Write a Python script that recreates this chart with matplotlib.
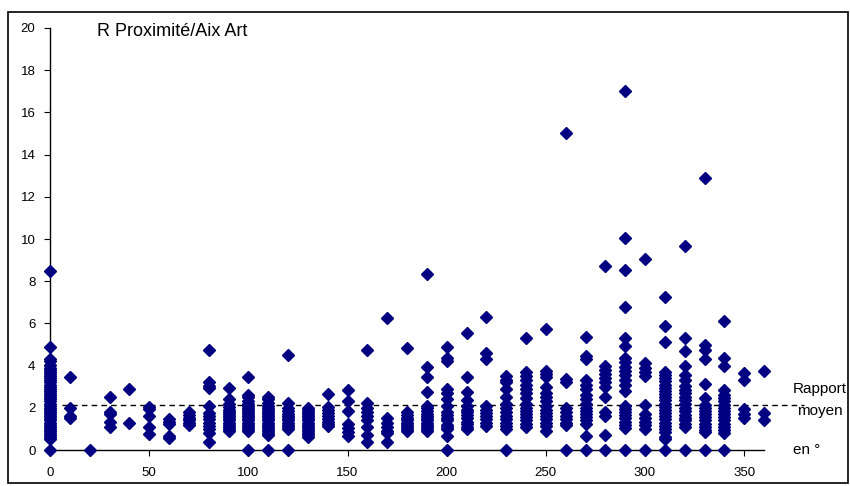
import matplotlib
matplotlib.use("Agg")
import matplotlib.pyplot as plt
from matplotlib.patches import Rectangle

plt.rcParams['font.family'] = ['Liberation Sans', 'DejaVu Sans']

# angle (degrees) and the ratio values observed at each angle
angles = [0, 10, 20, 30, 40, 50, 60, 70, 80, 90, 100, 110, 120, 130, 140, 150,
          160, 170, 180, 190, 200, 210, 220, 230, 240, 250, 260, 270, 280, 290,
          300, 310, 320, 330, 340, 350, 360]

ratios = [
    [8.5, 4.9, 4.3, 4.2, 4.05, 3.9, 3.8, 3.7, 3.6, 3.5, 3.4, 3.3, 3.2, 3.1, 3.0,
     2.9, 2.8, 2.7, 2.6, 2.5, 2.4, 2.3, 2.2, 2.1, 2.0, 1.9, 1.8, 1.7, 1.6, 1.5,
     1.4, 1.3, 1.2, 1.1, 1.0, 0.9, 0.8, 0.7, 0.6, 0.5, 0],
    [3.45, 2.0, 1.6, 1.5],
    [0],
    [2.5, 1.8, 1.7, 1.35, 1.1],
    [2.9, 1.3],
    [2.05, 1.95, 1.6, 1.1, 0.75],
    [1.45, 1.35, 1.25, 0.65, 0.55],
    [1.8, 1.65, 1.5, 1.4, 1.3, 1.2],
    [4.75, 3.2, 3.05, 2.95, 2.1, 1.75, 1.6, 1.45, 1.3, 1.15, 1.0, 0.8, 0.4],
    [2.95, 2.4, 2.2, 2.05, 1.9, 1.8, 1.7, 1.6, 1.5, 1.4, 1.3, 1.2, 1.1, 1.0, 0.9],
    [3.45, 2.6, 2.5, 2.3, 2.2, 2.1, 2.0, 1.9, 1.8, 1.7, 1.6, 1.5, 1.4, 1.3, 1.2,
     1.1, 1.0, 0.9, 0],
    [2.5, 2.4, 2.25, 2.1, 2.0, 1.9, 1.8, 1.7, 1.6, 1.5, 1.4, 1.3, 1.2, 1.1, 1.0,
     0.9, 0.8, 0.7, 0],
    [4.5, 2.25, 2.0, 1.85, 1.7, 1.6, 1.5, 1.4, 1.3, 1.2, 1.1, 1.0, 0],
    [2.0, 1.9, 1.8, 1.7, 1.6, 1.5, 1.4, 1.3, 1.2, 1.1, 1.0, 0.9, 0.8, 0.7, 0.6],
    [2.65, 2.05, 1.9, 1.75, 1.6, 1.45, 1.35, 1.25, 1.15],
    [2.85, 2.3, 1.85, 1.25, 1.05, 0.85, 0.65],
    [4.75, 2.25, 2.0, 1.8, 1.6, 1.4, 1.1, 0.7, 0.4],
    [6.25, 1.5, 1.3, 1.1, 0.9, 0.8, 0.4],
    [4.85, 1.8, 1.65, 1.5, 1.4, 1.3, 1.2, 1.1, 1.0, 0.9],
    [8.35, 3.95, 3.45, 2.75, 2.1, 2.0, 1.85, 1.7, 1.6, 1.5, 1.4, 1.3, 1.2, 1.1,
     1.0, 0.9],
    [4.9, 4.35, 4.2, 2.9, 2.7, 2.4, 2.1, 1.8, 1.65, 1.5, 1.4, 1.2, 1.1, 1.0,
     0.65, 0],
    [5.55, 3.45, 2.75, 2.35, 2.1, 1.9, 1.8, 1.65, 1.5, 1.35, 1.25, 1.1, 1.0],
    [6.3, 4.6, 4.3, 2.1, 1.9, 1.75, 1.6, 1.45, 1.3, 1.15],
    [3.5, 3.3, 3.2, 2.9, 2.5, 2.2, 2.0, 1.8, 1.6, 1.45, 1.3, 1.15, 1.0, 0],
    [5.3, 3.7, 3.5, 3.3, 3.1, 2.9, 2.7, 2.45, 2.2, 2.0, 1.85, 1.7, 1.55, 1.4,
     1.25, 1.1],
    [5.75, 3.75, 3.6, 3.45, 3.0, 2.7, 2.5, 2.3, 2.1, 1.9, 1.75, 1.6, 1.45, 1.3,
     1.15, 0.9],
    [15.0, 3.35, 3.2, 2.0, 1.8, 1.6, 1.45, 1.3, 1.2, 0],
    [5.35, 4.45, 4.3, 3.3, 3.1, 2.9, 2.6, 2.4, 2.2, 2.0, 1.85, 1.7, 1.55, 1.4,
     1.25, 0.65, 0],
    [8.7, 4.0, 3.8, 3.6, 3.4, 3.2, 3.0, 2.5, 1.8, 1.6, 0.7, 0],
    [17.0, 10.05, 8.55, 6.8, 5.3, 4.95, 4.35, 4.15, 3.95, 3.75, 3.55, 3.3, 3.1,
     2.8, 2.1, 1.95, 1.8, 1.65, 1.5, 1.35, 1.2, 1.05, 0],
    [9.05, 4.1, 3.9, 3.7, 3.5, 2.15, 1.7, 1.5, 1.35, 1.2, 1.0, 0],
    [7.25, 5.9, 5.1, 3.7, 3.55, 3.4, 3.25, 3.1, 2.95, 2.8, 2.65, 2.5, 2.35, 2.2,
     2.05, 1.9, 1.75, 1.6, 1.45, 1.3, 1.15, 1.0, 0.85, 0.6, 0.5, 0],
    [9.65, 5.3, 4.7, 4.0, 3.55, 3.3, 3.05, 2.85, 2.7, 2.5, 2.35, 2.2, 2.0, 1.85,
     1.65, 1.5, 1.4, 1.25, 1.1, 0],
    [12.9, 5.0, 4.75, 4.3, 3.15, 2.45, 2.15, 2.0, 1.85, 1.7, 1.55, 1.4, 1.25,
     1.1, 0.95, 0.85, 0],
    [6.1, 4.35, 4.0, 2.85, 2.6, 2.45, 2.3, 2.15, 2.0, 1.85, 1.7, 1.55, 1.4, 1.25,
     1.1, 0.95, 0.8, 0],
    [3.65, 3.3, 1.95, 1.7, 1.5],
    [3.75, 1.75, 1.4],
]

mean_ratio = 2.15
mean_x = [6, 380]
xticks = [0, 50, 100, 150, 200, 250, 300, 350]
yticks = [0, 2, 4, 6, 8, 10, 12, 14, 16, 18, 20]

navy = '#000080'

fig = plt.figure(figsize=(8.5, 4.86), dpi=100)
ax = fig.add_axes([50 / 850, 36 / 486, 714 / 850, 422 / 486])

xs = [a for a, col in zip(angles, ratios) for _ in col]
ys = [v for col in ratios for v in col]
ax.plot(xs, ys, linestyle='none', marker='D', markersize=5.8,
        color=navy, markeredgecolor=navy, clip_on=False, zorder=3)

# mean ratio line
ax.plot(mean_x, [mean_ratio, mean_ratio], color='black', linewidth=1,
        dashes=(4, 3), clip_on=False, zorder=2)

ax.set_xlim(0, 360)
ax.set_ylim(0, 20)
ax.set_xticks(xticks)
ax.set_yticks(yticks)
ax.tick_params(direction='out', length=4.5, width=0.8, labelsize=9.5)
ax.tick_params(axis='x', pad=7.5)
ax.tick_params(axis='y', pad=6)
for s in ['top', 'right']:
    ax.spines[s].set_visible(False)
for s in ['left', 'bottom']:
    ax.spines[s].set_linewidth(1)

fig.text(97 / 850, 1 - 31 / 486, 'R Proximité/Aix Art', fontsize=13,
         ha='left', va='center')
fig.text(793 / 850, 1 - 389 / 486, 'Rapport', fontsize=11, ha='left', va='center')
fig.text(797 / 850, 1 - 411 / 486, 'moyen', fontsize=11, ha='left', va='center')
fig.text(793 / 850, 1 - 450 / 486, 'en °', fontsize=11, ha='left', va='center')

# outer frame of the chart area
fig.patches.append(Rectangle((8 / 850, 3 / 486), 840 / 850, 471 / 486,
                             transform=fig.transFigure, fill=False,
                             edgecolor='black', linewidth=1.2))

fig.savefig('out.png', dpi=100)
